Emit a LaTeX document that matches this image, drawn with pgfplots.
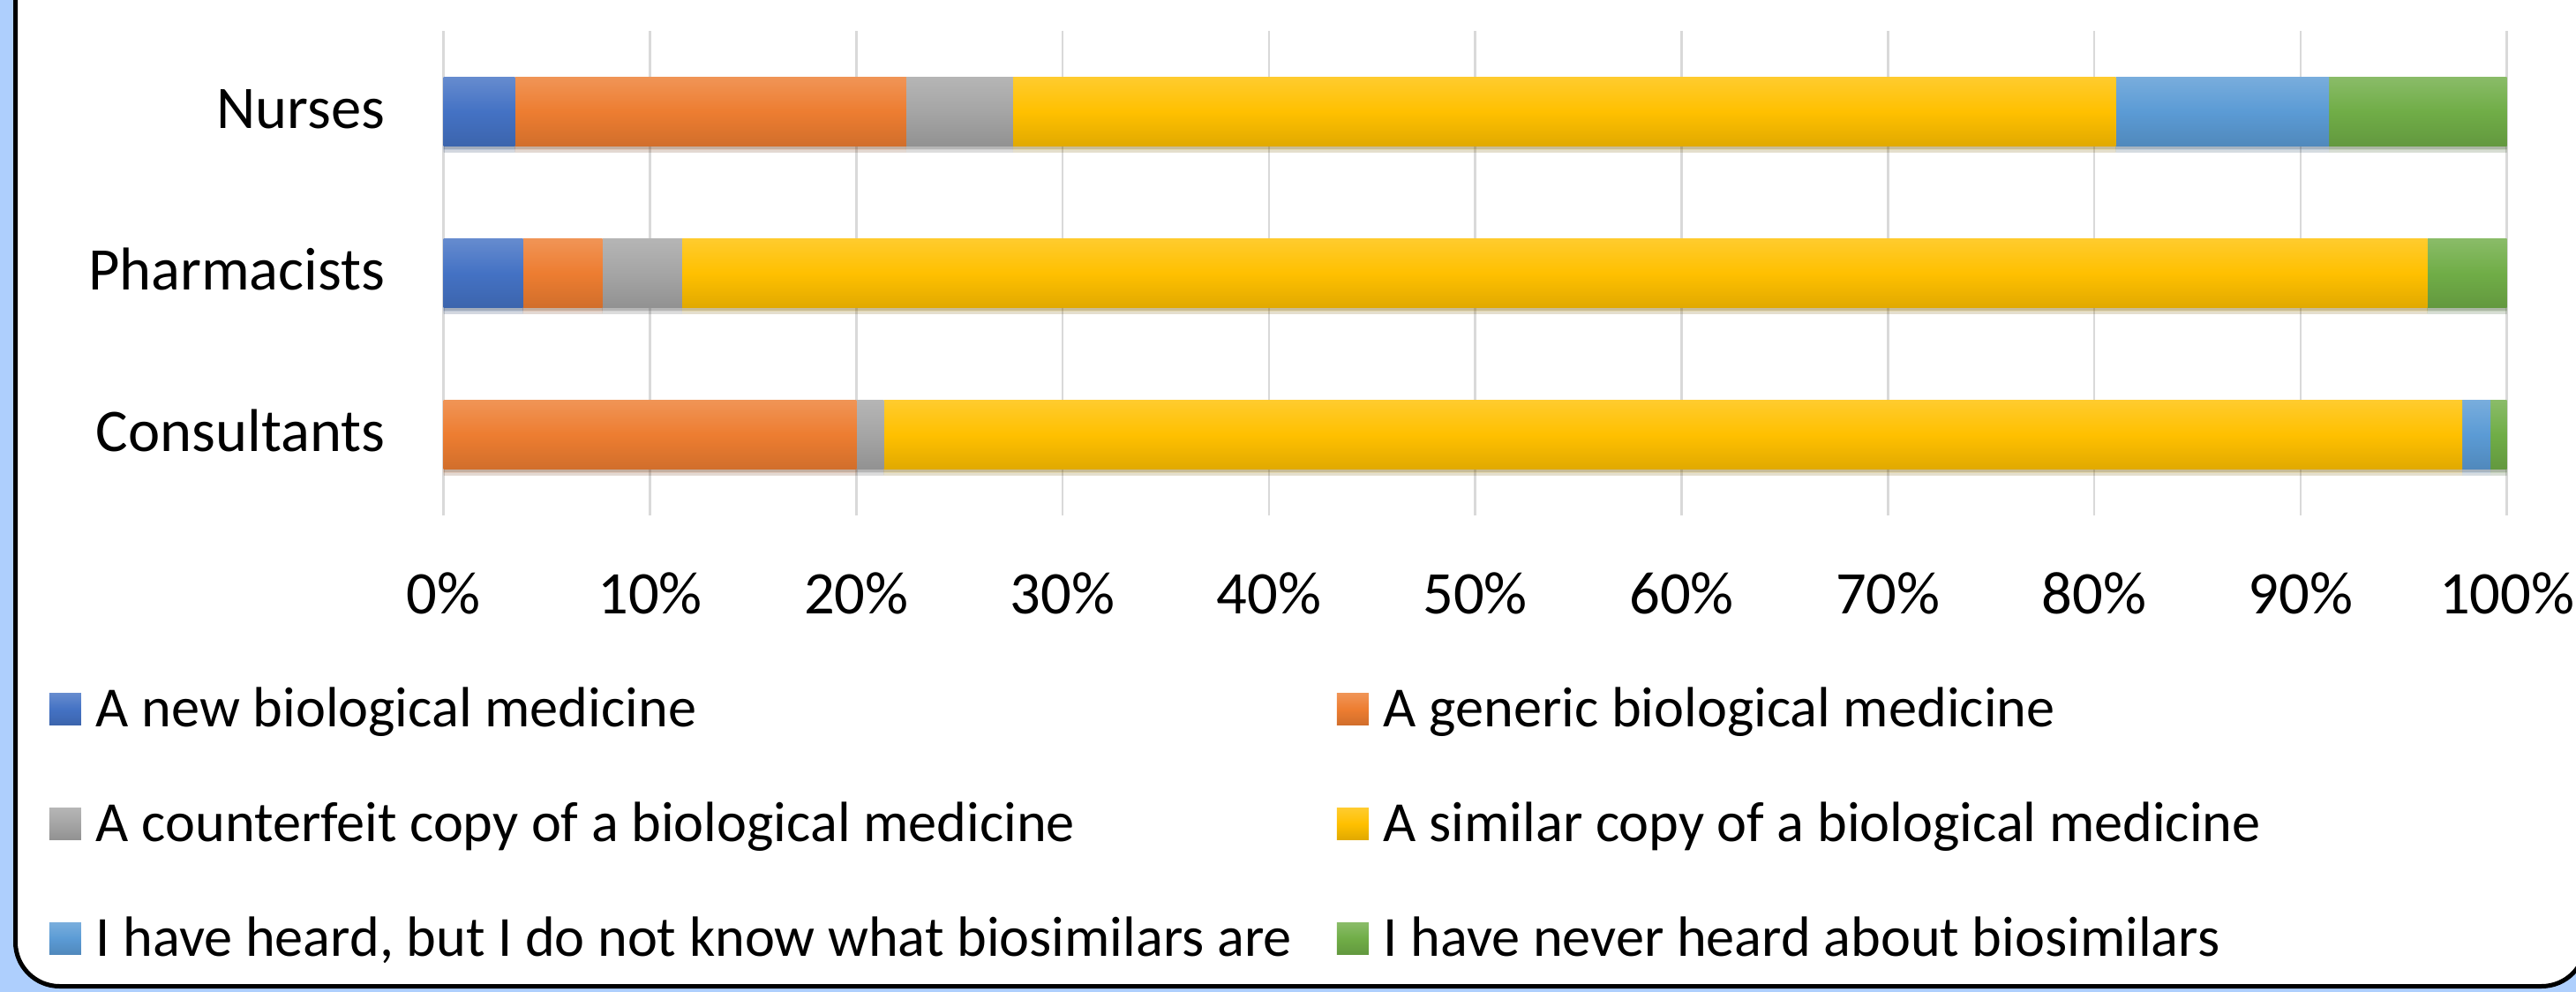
\documentclass[border=0pt]{standalone}
\usepackage{pgfplots}
\pgfplotsset{compat=1.18}
\usepackage{fontspec}
\setmainfont{Carlito}
\definecolor{bgblue}{RGB}{174,207,253}
\definecolor{cA}{RGB}{68,114,196}
\definecolor{cB}{RGB}{237,125,49}
\definecolor{cC}{RGB}{165,165,165}
\definecolor{cD}{RGB}{255,192,0}
\definecolor{cE}{RGB}{91,155,213}
\definecolor{cF}{RGB}{112,173,71}
\definecolor{gridc}{RGB}{217,217,217}
\tikzset{
  gbar/.style={draw=none, top color=#1!82!white, bottom color=#1!88!black, middle color=#1},
  sbar/.style={gbar=#1,
    preaction={fill=black, opacity=0.10, transform canvas={yshift=-0.07cm}},
    preaction={fill=black, opacity=0.14, transform canvas={yshift=-0.035cm}}},
}
\pgfplotsset{
  frame/.style={
    at={(5.027cm,-5.84cm)}, anchor=south west,
    scale only axis, width=23.38cm, height=5.49cm,
    xbar stacked, bar width=0.43,
    xmin=0, xmax=100, ymin=-0.5, ymax=2.5,
  },
}
\begin{document}
\begin{tikzpicture}
\useasboundingbox (0,0) rectangle (29.19,-11.24);
\begin{scope}
\clip (0,0) rectangle (29.19,-11.24);
\fill[bgblue] (0,0) rectangle (29.19,-11.24);
\draw[line width=0.05cm, fill=white, rounded corners=0.5cm] (0.175,1) rectangle (29.30,-11.175);
\end{scope}
% Consultants (with axis decorations and legend)
\begin{axis}[
  frame,
  ytick={0,1,2}, yticklabels={Consultants,Pharmacists,Nurses},
  xtick={0,10,20,30,40,50,60,70,80,90,100},
  xticklabels={0\%,10\%,20\%,30\%,40\%,50\%,60\%,70\%,80\%,90\%,100\%},
  axis line style={draw=none}, major tick length=0pt,
  xmajorgrids, grid style={draw=gridc, line width=0.025cm},
  tick label style={font=\fontsize{19.5}{23}\selectfont, inner sep=0pt},
  yticklabel style={anchor=base east, xshift=-0.657cm, yshift=-0.19cm},
  xticklabel style={anchor=base, yshift=-1.11cm},
  legend columns=2, legend cell align=left,
  legend style={at={(-0.1911,-0.3634)}, anchor=north west, draw=none, fill=none,
    inner sep=0pt, outer sep=0pt, font=\fontsize{18.3}{21}\selectfont,
    row sep=0.90cm, column sep=0.17cm,
    /tikz/every even column/.append style={column sep=0.51cm},
    nodes={inner sep=0pt, text height=0.40cm, text depth=0cm}},
  legend image code/.code={\path[#1] (0cm,-0.18cm) rectangle (0.36cm,0.18cm);},
]
\addlegendimage{gbar=cA}
\addlegendentry{A new biological medicine}
\addlegendimage{gbar=cB}
\addlegendentry{A generic biological medicine}
\addlegendimage{gbar=cC}
\addlegendentry{A counterfeit copy of a biological medicine}
\addlegendimage{gbar=cD}
\addlegendentry{A similar copy of a biological medicine}
\addlegendimage{gbar=cE}
\addlegendentry{I have heard, but I do not know what biosimilars are}
\addlegendimage{gbar=cF}
\addlegendentry{I have never heard about biosimilars}
\addplot[sbar=cA, forget plot] coordinates {(0,0)};
\addplot[sbar=cB, forget plot] coordinates {(20.0,0)};
\addplot[sbar=cC, forget plot] coordinates {(1.33,0)};
\addplot[sbar=cD, forget plot] coordinates {(76.5,0)};
\addplot[sbar=cE, forget plot] coordinates {(1.37,0)};
\addplot[sbar=cF, forget plot] coordinates {(0.8,0)};
\end{axis}
% Pharmacists
\begin{axis}[frame, hide axis]
\addplot[sbar=cA] coordinates {(3.85,1)};
\addplot[sbar=cB] coordinates {(3.85,1)};
\addplot[sbar=cC] coordinates {(3.85,1)};
\addplot[sbar=cD] coordinates {(84.6,1)};
\addplot[sbar=cE] coordinates {(0,1)};
\addplot[sbar=cF] coordinates {(3.85,1)};
\end{axis}
% Nurses
\begin{axis}[frame, hide axis]
\addplot[sbar=cA] coordinates {(3.45,2)};
\addplot[sbar=cB] coordinates {(18.97,2)};
\addplot[sbar=cC] coordinates {(5.17,2)};
\addplot[sbar=cD] coordinates {(53.45,2)};
\addplot[sbar=cE] coordinates {(10.34,2)};
\addplot[sbar=cF] coordinates {(8.62,2)};
\end{axis}
\end{tikzpicture}
\end{document}
